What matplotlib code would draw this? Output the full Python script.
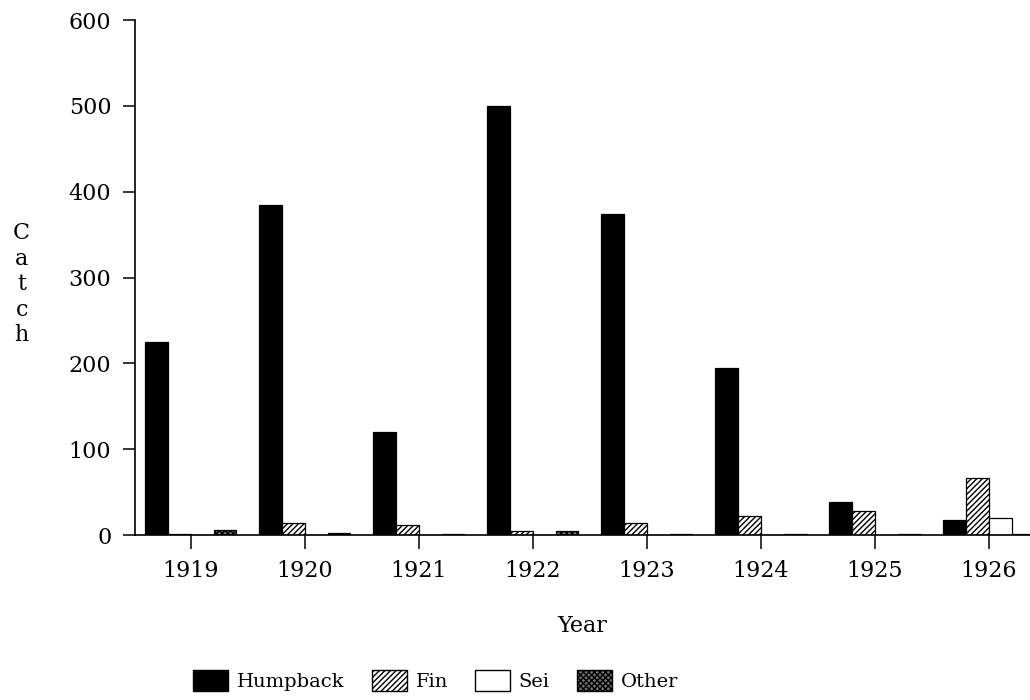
"""Whale catch by species, 1919-1926 -- grouped bar chart in the old report style."""

import matplotlib

matplotlib.use("Agg")
import matplotlib.pyplot as plt  # noqa: E402
import numpy as np  # noqa: E402
from matplotlib.patches import Patch  # noqa: E402

# values
years = ["1919", "1920", "1921", "1922", "1923", "1924", "1925", "1926"]
humpback = [225, 385, 120, 500, 374, 195, 38, 17]
fin = [1, 14, 12, 5, 14, 22, 28, 66]
sei = [0, 0, 0, 0, 0, 0, 0, 20]
other = [6, 2, 1, 5, 1, 1, 1, 1]
yticks = [0, 100, 200, 300, 400, 500, 600]

plt.rcParams["font.family"] = ["DejaVu Serif"]
plt.rcParams["hatch.linewidth"] = 1.0

fig = plt.figure(figsize=(10.3, 7.0), dpi=100)
ax = fig.add_axes([0.131, 0.2357, 0.869, 0.7357])

x = np.arange(len(years))
w = 0.2
styles = [
    (humpback, dict(facecolor="black", edgecolor="black")),
    (fin, dict(facecolor="white", edgecolor="black", hatch="//////")),
    (sei, dict(facecolor="white", edgecolor="black")),
    (other, dict(facecolor="#707070", edgecolor="black", hatch="xxxxxx")),
]
for k, (vals, st) in enumerate(styles):
    ax.bar(x + (k - 1.5) * w, vals, width=w, linewidth=0.9, **st)

ax.set_xlim(-0.49, 7.36)
ax.set_ylim(0, 600)
ax.set_xticks(x)
ax.set_xticklabels(years)
ax.set_yticks(yticks)

for side in ("top", "right"):
    ax.spines[side].set_visible(False)
for side in ("left", "bottom"):
    ax.spines[side].set_linewidth(1.2)

ax.tick_params(axis="both", direction="out", labelsize=16, width=1.1)
ax.tick_params(axis="x", length=10, pad=8)
ax.tick_params(axis="y", length=9, pad=8)

ax.set_xlabel("Year", fontsize=16, labelpad=24)
fig.text(0.021, 0.594, "C\na\nt\nc\nh", ha="center", va="center",
         fontsize=16, linespacing=1.2)

handles = [
    Patch(facecolor="black", edgecolor="black", label="Humpback"),
    Patch(facecolor="white", edgecolor="black", hatch="//////", label="Fin"),
    Patch(facecolor="white", edgecolor="black", label="Sei"),
    Patch(facecolor="#707070", edgecolor="black", hatch="xxxxxx", label="Other"),
]
fig.legend(handles=handles, loc="center", bbox_to_anchor=(0.423, 0.028),
           ncol=4, frameon=False, fontsize=14, handlelength=1.8,
           handleheight=1.3, handletextpad=0.45, columnspacing=1.4)

fig.savefig("out.png", dpi=100)
plt.close(fig)
